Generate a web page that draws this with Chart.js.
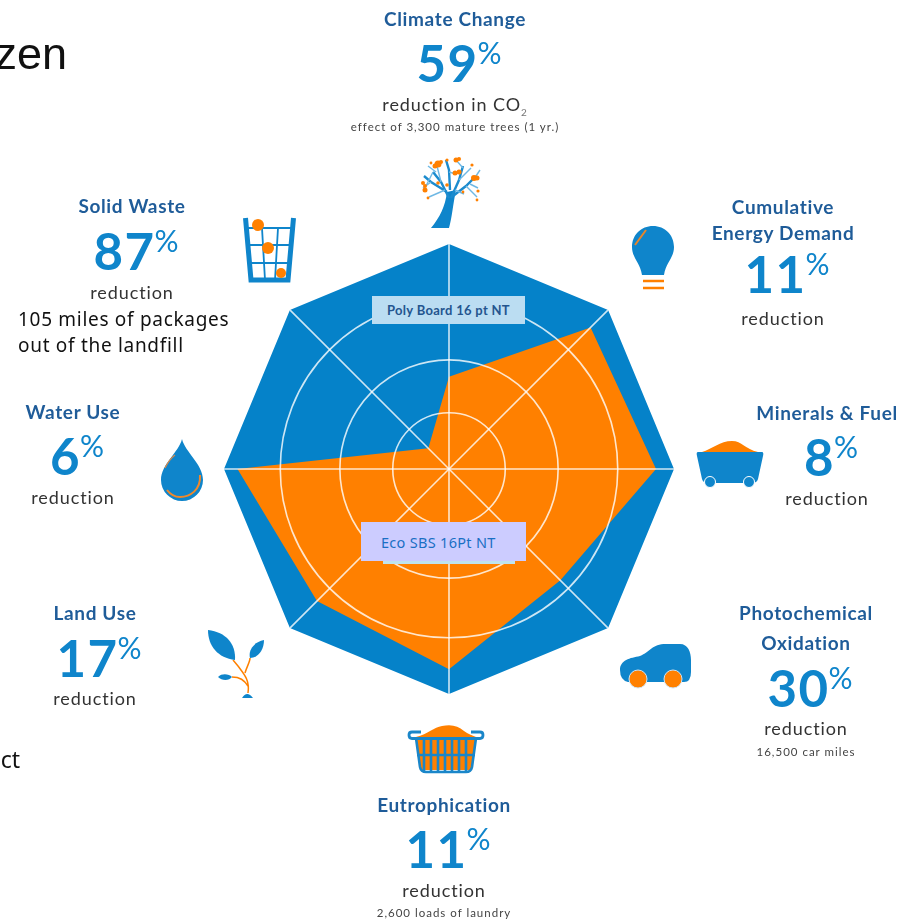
<!DOCTYPE html>
<html>
<head>
<meta charset="utf-8">
<title>Poly Board vs Eco SBS</title>
<script src="https://cdn.jsdelivr.net/npm/chart.js@4/dist/chart.umd.min.js"></script>
<style>
  html, body { margin: 0; padding: 0; background: #fff; }
  #page { position: relative; width: 900px; height: 920px; overflow: hidden; font-family: Lato, sans-serif; }
  #chart { position: absolute; left: 0; top: 0; }
  #icons { position: absolute; left: 0; top: 0; }
  .txt { position: absolute; white-space: nowrap; line-height: 1; transform: translate(-50%, -50%); }
  .title { color: #1f5c99; font-size: 19px; font-weight: 700; letter-spacing: 0.65px; }
  .num { color: #0f85cb; font-size: 51px; font-weight: 700; letter-spacing: 1.5px; }
  .num span { font-size: 30px; font-weight: 400; vertical-align: 18px; letter-spacing: 0; margin-left: -1px; }
  .sub { color: #333; font-size: 18px; letter-spacing: 0.9px; }
  .sub sub { font-size: 10px; color: #777; line-height: 0; }
  .note { color: #444; font-size: 11.5px; letter-spacing: 1px; }
  .slide { position: absolute; white-space: nowrap; line-height: 1; color: #111; font-family: "Noto Sans", sans-serif; }
  .box { position: absolute; box-sizing: border-box; display: flex; align-items: center; }
</style>
</head>
<body>
<div id="page">
  <canvas id="chart" width="900" height="920"></canvas>
  <svg id="icons" width="900" height="920" viewBox="0 0 900 920">
    <!-- arbol -->
    <g>
      <path d="M431 228 C440 217 445 207 447 192 L456 190 C453 204 452 218 449 228 Z" fill="#0f85cb"/>
      <g fill="none" stroke="#1b8bce" stroke-width="2.4">
        <path d="M449 198 L441 182 L433 172"/><path d="M451 198 L459 180 L463 166"/>
        <path d="M453 196 L466 186 L476 176"/><path d="M447 192 L431 182 L424 176"/>
        <path d="M450 190 L449 170 L446 160"/>
      </g>
      <g fill="none" stroke="#6fb8e4" stroke-width="1.4">
        <path d="M441 182 L437 166"/><path d="M459 180 L471 168"/><path d="M445 190 L429 197"/>
        <path d="M466 186 L477 197"/><path d="M433 172 L426 186"/><path d="M455 190 L464 194"/>
        <path d="M431 182 L423 188"/><path d="M463 168 L456 160"/><path d="M476 176 L480 170"/>
        <path d="M436 172 L428 166"/><path d="M449 172 L456 174"/><path d="M470 184 L478 188"/>
      </g>
      <g fill="#ff8000">
        <circle cx="438" cy="164" r="3.5"/><circle cx="435" cy="166" r="2.5"/><circle cx="441" cy="162" r="2"/>
        <circle cx="456" cy="160" r="2.5"/><circle cx="459" cy="159" r="2"/>
        <circle cx="455" cy="173" r="2.5"/><circle cx="459" cy="172" r="2.5"/>
        <circle cx="474" cy="178" r="3"/><circle cx="477" cy="178" r="2.5"/>
        <circle cx="425" cy="190" r="2.5"/><circle cx="423" cy="183" r="2"/><circle cx="425" cy="186" r="2"/>
        <circle cx="447" cy="160" r="1.6"/><circle cx="472" cy="165" r="1.6"/>
        <circle cx="478" cy="191" r="1.6"/><circle cx="477" cy="200" r="1.4"/><circle cx="428" cy="198" r="1.4"/>
        <circle cx="438" cy="183" r="1.8"/><circle cx="447" cy="185" r="1.8"/><circle cx="463" cy="192" r="1.4"/>
        <circle cx="431" cy="163" r="1.4"/>
      </g>
    </g>
    <!-- bombilla -->
    <g>
      <path d="M653 226 C665 226 674 235 674 247 C674 258 666 262 664 275 L642 275 C640 262 632 258 632 247 C632 235 641 226 653 226 Z" fill="#0f85cb"/>
      <path d="M635 245 L646 230" stroke="#e8862a" stroke-width="2" fill="none"/>
      <path d="M643 281 H664 M643 288 H664" stroke="#ff8000" stroke-width="2.4" fill="none"/>
    </g>
    <!-- vagoneta -->
    <g>
      <path d="M702 452 C712 449 720 441 732 441 C742 441 745 449 758 452 Z" fill="#ff8000"/>
      <path d="M698 452 H762 Q764 452 763 456 L758 479 Q757 483 752 483 H708 Q703 483 702 479 L697 456 Q696 452 698 452 Z" fill="#0f85cb"/>
      <circle cx="710" cy="482" r="5.5" fill="#0f85cb" stroke="#fff" stroke-width="1"/>
      <circle cx="749" cy="482" r="5.5" fill="#0f85cb" stroke="#fff" stroke-width="1"/>
    </g>
    <!-- coche -->
    <g>
      <path d="M620 670 C620 660 630 658 640 656 C650 652 652 644 666 644 L680 644 C688 644 691 652 691 660 L691 672 Q691 682 684 682 L628 682 Q620 680 620 670 Z" fill="#0f85cb"/>
      <circle cx="638" cy="679" r="9" fill="#ff8000" stroke="#cfe3f2" stroke-width="1"/>
      <circle cx="673" cy="679" r="9" fill="#ff8000" stroke="#cfe3f2" stroke-width="1"/>
    </g>
    <!-- cesto de ropa -->
    <g>
      <path d="M416 737 C428 734 434 727 442 726 C452 724 458 726 464 731 C468 734 472 735 476 737 L472 770 H420 Z" fill="#ff8000"/>
      <path d="M421 732 H412 Q409 732 409 735 Q409 738.5 412 738.5 H480 Q483 738.5 483 735 Q483 732 480 732 H471" fill="none" stroke="#1a86c9" stroke-width="2.8"/>
      <path d="M416 738 L420 767 Q421 772 426 772 H466 Q471 772 472 767 L476 738" fill="none" stroke="#1a86c9" stroke-width="2.6"/>
      <path d="M417 755 H475 M424 738 V771 M431 738 V771 M438 738 V771 M445 738 V771 M452 738 V771 M459 738 V771 M466 738 V771" stroke="#1a86c9" stroke-width="2.6" fill="none"/>
    </g>
    <!-- planta -->
    <g>
      <path d="M248 693 C250 680 244 674 238 666 L233 660 M245 673 C247 666 250 662 250 658 M232 677 C240 677 244 680 248 686" stroke="#ff8000" stroke-width="1.5" fill="none"/>
      <path d="M208 630 C226 632 236 644 235 660 C218 658 208 646 208 630 Z" fill="#0f85cb"/>
      <path d="M264 640 C264 650 258 658 250 658 C248 650 254 642 264 640 Z" fill="#0f85cb"/>
      <path d="M218 677 C222 673 229 674 232 677 C229 681 222 681 218 677 Z" fill="#0f85cb"/>
      <path d="M242 698 Q247 690 253 698 Z" fill="#0f85cb"/>
    </g>
    <!-- gota -->
    <g>
      <path d="M182 439 C185 452 203 464 203 480 A21 21 0 0 1 161 480 C161 464 179 452 182 439 Z" fill="#0f85cb"/>
      <path d="M200 475 C201 490 190 497 180 497 C175 497 170 494 167 490" stroke="#f0882a" stroke-width="2" fill="none"/>
      <path d="M165 468 C168 462 171 458 175 455" stroke="#d98a4a" stroke-width="1.2" fill="none"/>
    </g>
    <!-- papelera -->
    <g fill="none" stroke="#0f85cb">
      <path d="M245.5 218 L251 280 H288 L293.5 218" stroke-width="5"/>
      <path d="M247 228 H292 M248 245 H291 M250 263 H289 M262 228 L265 280 M278 228 L275 280" stroke-width="1.8"/>
      <circle cx="258" cy="225" r="6" fill="#ff8000" stroke="none"/>
      <circle cx="268" cy="248" r="6" fill="#ff8000" stroke="none"/>
      <circle cx="281" cy="273" r="5" fill="#ff8000" stroke="none"/>
    </g>
  </svg>
</div>

<script>
// --- Datos ---
const categories = ['Climate Change', 'Cumulative Energy Demand', 'Minerals & Fuel', 'Photochemical Oxidation', 'Eutrophication', 'Land Use', 'Water Use', 'Solid Waste'];
const polyBoardValues = [100, 100, 100, 100, 100, 100, 100, 100];
const ecoSbsValues = [41, 89, 92, 70, 89, 83, 94, 13];
const reductions = [59, 11, 8, 30, 11, 17, 6, 87];
const reductionTexts = ['reduction in CO', 'reduction', 'reduction', 'reduction', 'reduction', 'reduction', 'reduction', 'reduction'];
const notes = ['effect of 3,300 mature trees (1 yr.)', '', '', '16,500 car miles', '2,600 loads of laundry', '', '', ''];
const seriesNames = ['Poly Board 16 pt NT', 'Eco SBS 16Pt NT'];
const radialTicks = [0, 25, 48.5, 75, 100];

// --- Colocacion de los textos alrededor del radar ---
const titleLines = [['Climate Change'], ['Cumulative', 'Energy Demand'], ['Minerals & Fuel'], ['Photochemical', 'Oxidation'], ['Eutrophication'], ['Land Use'], ['Water Use'], ['Solid Waste']];
const blockX = [455, 783, 827, 806, 444, 95, 73, 132];
const titleY = [[18], [206, 232], [412], [612, 642], [804], [612], [411], [205]];
const numberY = [62, 273, 456, 687, 848, 657, 455, 250];
const textY = [104, 318, 498, 728, 890, 698, 497, 292];
const noteY = [127, 0, 0, 752, 913, 0, 0, 0];

const page = document.getElementById('page');

function addText(cls, html, x, y) {
    const el = document.createElement('div');
    el.className = 'txt ' + cls;
    el.innerHTML = html;
    el.style.left = x + 'px';
    el.style.top = y + 'px';
    page.appendChild(el);
}

function addSlideText(text, css) {
    const el = document.createElement('div');
    el.className = 'slide';
    el.textContent = text;
    el.style.cssText = css;
    page.appendChild(el);
}

function addBox(text, left, top, w, h, bg, color, css) {
    const el = document.createElement('div');
    el.className = 'box';
    el.textContent = text;
    el.style.cssText = `left:${left}px;top:${top}px;width:${w}px;height:${h}px;background:${bg};color:${color};${css}`;
    page.appendChild(el);
}

categories.forEach((name, i) => {
    titleLines[i].forEach((line, j) => addText('title', line.replace('&', '&amp;'), blockX[i], titleY[i][j]));
    addText('num', `${reductions[i]}<span>%</span>`, blockX[i] + 4, numberY[i]);
    addText('sub', reductionTexts[i] + (i === 0 ? '<sub>2</sub>' : ''), blockX[i], textY[i]);
    if (notes[i]) addText('note', notes[i], blockX[i], noteY[i]);
});

// Textos de la diapositiva que quedan recortados por el borde
addSlideText('zen', 'right:833px;top:31px;font-size:45px;font-family:"Liberation Sans",sans-serif;');
addSlideText('105 miles of packages', 'left:18px;top:310px;font-size:19px;letter-spacing:0.7px;');
addSlideText('out of the landfill', 'left:18px;top:336px;font-size:19px;letter-spacing:0.7px;');
addSlideText('ct', 'right:880px;top:748px;font-size:23px;');

// Etiquetas de las series
addBox('', 383, 558, 132, 6, '#bfe3ee', '#000', '');
addBox(seriesNames[0], 372, 296, 153, 28, '#bbddf2', '#24558f', 'justify-content:center;font:700 13px Lato,sans-serif;letter-spacing:0.3px;');
addBox(seriesNames[1], 361, 522, 165, 39, '#ccccff', '#1a6fc4', 'padding-left:20px;font:14.5px "Noto Sans",sans-serif;letter-spacing:0.3px;');

// --- Radar ---
new Chart(document.getElementById('chart'), {
    type: 'radar',
    data: {
        labels: categories,
        datasets: [{
            label: seriesNames[1],
            data: ecoSbsValues,
            backgroundColor: '#ff8000',
            borderWidth: 0,
            pointRadius: 0,
            fill: true
        }, {
            label: seriesNames[0],
            data: polyBoardValues,
            backgroundColor: '#0582c9',
            borderWidth: 0,
            pointRadius: 0,
            fill: true
        }]
    },
    options: {
        responsive: false,
        animation: false,
        layout: { padding: { left: 224, right: 226, top: 244, bottom: 226 } },
        plugins: { legend: { display: false }, tooltip: { enabled: false } },
        scales: {
            r: {
                min: radialTicks[0],
                max: radialTicks[radialTicks.length - 1],
                afterBuildTicks: scale => { scale.ticks = radialTicks.map(value => ({ value })); },
                ticks: { display: false },
                pointLabels: { display: false },
                angleLines: { color: 'rgba(255,255,255,0.8)', lineWidth: 1.6 },
                grid: {
                    z: 1,
                    circular: true,
                    lineWidth: 1.6,
                    color: ctx => ctx.tick.value === 100 ? 'transparent' : 'rgba(255,255,255,0.8)'
                }
            }
        }
    }
});
</script>
</body>
</html>
